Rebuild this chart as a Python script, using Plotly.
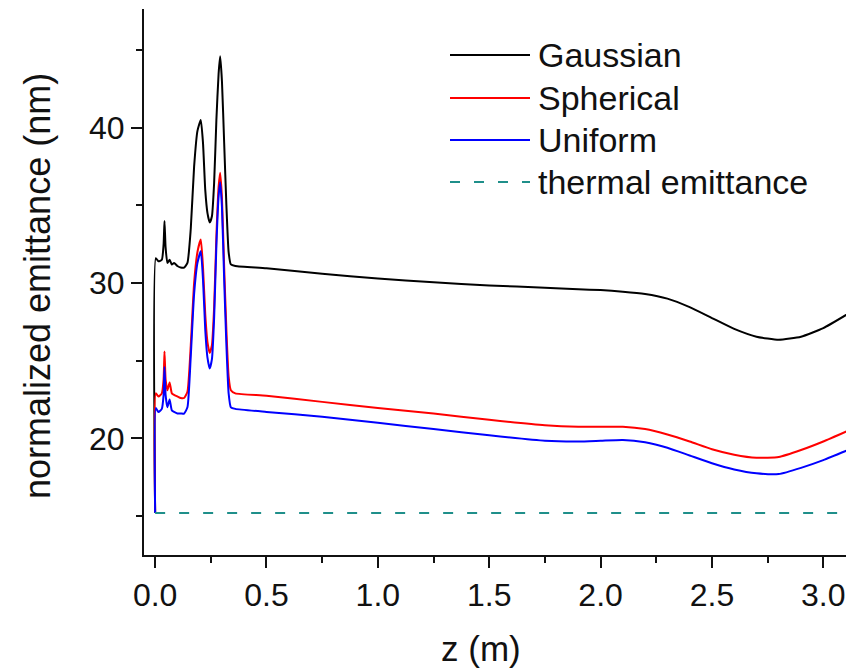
import plotly.graph_objects as go

# ---- data ----
z = [0, 0.003, 0.015, 0.03, 0.038, 0.042, 0.047, 0.055, 0.065, 0.075,
     0.085, 0.1, 0.115, 0.13, 0.145, 0.16, 0.175, 0.19, 0.205, 0.215,
     0.225, 0.235, 0.245, 0.255, 0.265, 0.275, 0.285, 0.292, 0.30, 0.31,
     0.32, 0.33, 0.34, 0.36, 0.5, 0.75, 1.0, 1.25, 1.5, 1.75,
     1.9, 2.0, 2.1, 2.2, 2.3, 2.4, 2.5, 2.6, 2.7, 2.8,
     2.9, 3.0, 3.12]
gaussian = [15.2, 31.6, 31.4, 31.5, 32.5, 34.0, 32.3, 31.3, 31.5, 31.2,
            31.3, 31.1, 31.0, 31.0, 31.3, 33.5, 37.5, 39.8, 40.5, 39.0,
            36.0, 34.5, 33.9, 34.3, 36.5, 40.5, 43.5, 44.6, 43.0, 39.0,
            35.0, 32.0, 31.2, 31.1, 30.95, 30.6, 30.3, 30.05, 29.85, 29.7,
            29.6, 29.55, 29.45, 29.3, 29.0, 28.45, 27.75, 27.05, 26.55, 26.35,
            26.55, 27.1, 28.1]
spherical = [15.2, 22.9, 22.7, 22.9, 23.8, 25.6, 23.8, 23.1, 23.6, 22.9,
             22.8, 22.7, 22.6, 22.6, 23.0, 26.0, 30.0, 32.0, 32.8, 31.0,
             28.0, 26.2, 25.5, 26.0, 28.5, 33.0, 36.2, 37.1, 35.5, 31.0,
             27.0, 24.0, 23.1, 22.9, 22.75, 22.35, 21.95, 21.6, 21.2, 20.85,
             20.75, 20.75, 20.75, 20.6, 20.25, 19.8, 19.3, 18.95, 18.75, 18.8,
             19.25, 19.8, 20.55]
uniform = [15.2, 21.95, 21.7, 21.9, 22.8, 24.6, 22.8, 22.0, 22.5, 21.8,
           21.7, 21.6, 21.6, 21.6, 22.0, 25.3, 29.3, 31.3, 32.05, 30.2,
           27.0, 25.2, 24.5, 25.1, 27.8, 32.4, 35.6, 36.5, 34.9, 30.2,
           26.0, 22.9, 22.0, 21.9, 21.7, 21.4, 21.0, 20.6, 20.2, 19.85,
           19.8, 19.85, 19.9, 19.75, 19.4, 18.9, 18.4, 18.0, 17.75, 17.7,
           18.1, 18.6, 19.3]
thermal_z = [0, 3.12]
thermal = [15.2, 15.2]

series_names = ["Gaussian", "Spherical", "Uniform", "thermal emittance"]
series_colors = ["#000000", "#ff0000", "#0000ff", "#1f8f8a"]

x_ticks = [0.0, 0.5, 1.0, 1.5, 2.0, 2.5, 3.0]
x_minor = [0.25, 0.75, 1.25, 1.75, 2.25, 2.75]
y_ticks = [20, 30, 40]
y_minor = [15, 25, 35, 45]

FONT = "Liberation Sans, Arial, Helvetica, sans-serif"
TXT = "#111111"

fig = go.Figure()
for name, ys, col in zip(series_names[:3], [gaussian, spherical, uniform], series_colors[:3]):
    fig.add_trace(go.Scatter(x=z, y=ys, mode="lines", name=name, showlegend=False,
                             line=dict(color=col, width=2, shape="spline", smoothing=0.5)))
fig.add_trace(go.Scatter(x=thermal_z, y=thermal, mode="lines", name=series_names[3],
                         showlegend=False,
                         line=dict(color=series_colors[3], width=2, dash="10px,14px")))

W, H = 846, 668
L, R, T, B = 144, 0, 9, 113
pw, ph = W - L - R, H - T - B


def px(xp):
    return (xp - L) / pw


def py(yp):
    return (H - B - yp) / ph


# manual legend (long sample lines as in the reference)
leg_rows = [55, 98, 140, 182]
shapes = []
annotations = []
for i, (name, col, yr) in enumerate(zip(series_names, series_colors, leg_rows)):
    shapes.append(dict(type="line", xref="paper", yref="paper",
                       x0=px(450), x1=px(530), y0=py(yr), y1=py(yr),
                       line=dict(color=col, width=2,
                                 dash="solid" if i < 3 else "10px,14px")))
    annotations.append(dict(xref="paper", yref="paper", x=px(536), y=py(yr),
                            xanchor="left", yanchor="middle", showarrow=False,
                            text=name, font=dict(family=FONT, size=34, color=TXT)))

# axis titles
annotations.append(dict(xref="paper", yref="paper", x=px(37), y=py(286),
                        xanchor="center", yanchor="middle", showarrow=False,
                        textangle=-90, text="normalized emittance (nm)",
                        font=dict(family=FONT, size=36, color=TXT)))
annotations.append(dict(xref="paper", yref="paper", x=px(481), y=py(648),
                        xanchor="center", yanchor="middle", showarrow=False,
                        text="z (m)", font=dict(family=FONT, size=35, color=TXT)))

fig.update_layout(
    width=W, height=H,
    margin=dict(l=L, r=R, t=T, b=B, autoexpand=False),
    paper_bgcolor="white", plot_bgcolor="white",
    font=dict(family=FONT, size=32, color=TXT),
    shapes=shapes, annotations=annotations,
    xaxis=dict(range=[-0.05, 3.102], tickvals=x_ticks,
               ticktext=[f"{v:.1f}" for v in x_ticks],
               ticks="outside", ticklen=11, tickwidth=1.6, tickcolor=TXT,
               minor=dict(tickvals=x_minor, ticks="outside", ticklen=6, tickwidth=1.6,
                          tickcolor=TXT, showgrid=False),
               showline=True, linecolor=TXT, linewidth=2,
               showgrid=False, zeroline=False,
               tickfont=dict(family=FONT, size=32, color=TXT)),
    yaxis=dict(range=[12.49, 47.65], tickvals=y_ticks,
               ticktext=[str(v) for v in y_ticks],
               ticks="outside", ticklen=11, tickwidth=1.6, tickcolor=TXT,
               minor=dict(tickvals=y_minor, ticks="outside", ticklen=6, tickwidth=1.6,
                          tickcolor=TXT, showgrid=False),
               showline=True, linecolor=TXT, linewidth=2,
               showgrid=False, zeroline=False,
               tickfont=dict(family=FONT, size=32, color=TXT)),
)

fig.write_html("out.html")
